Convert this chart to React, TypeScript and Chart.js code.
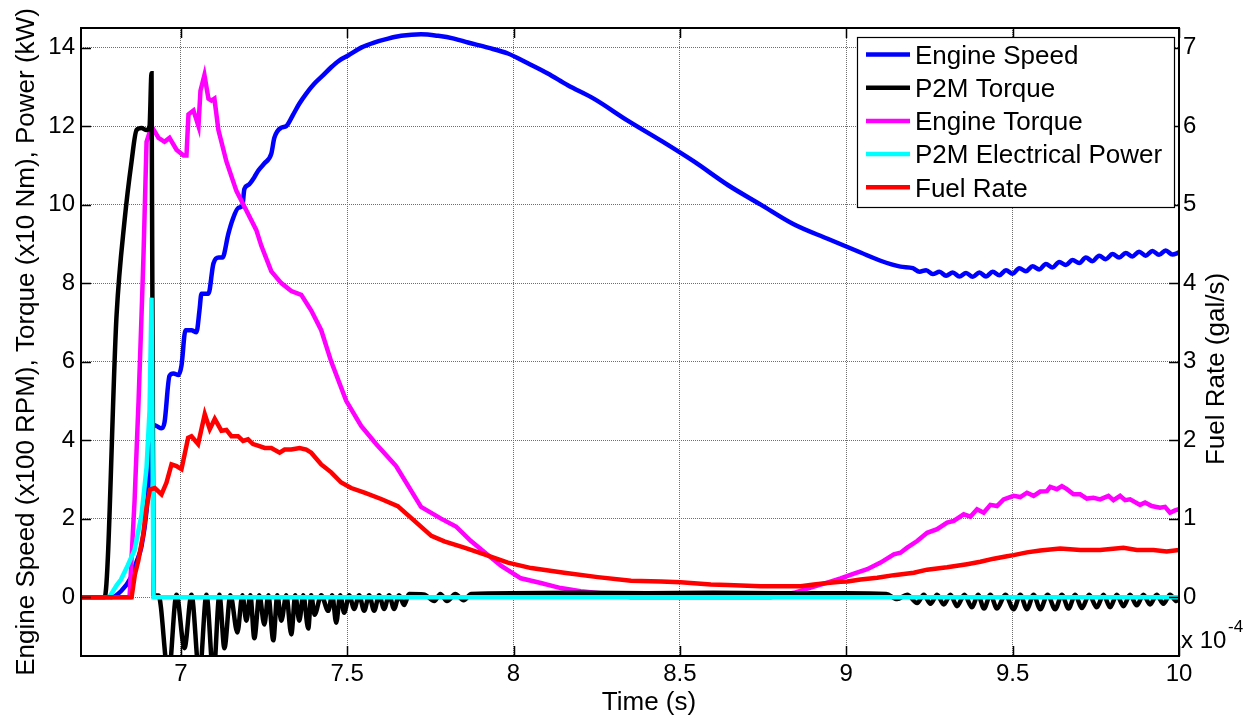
import React, { useEffect, useRef } from 'react';
import { Chart, registerables } from 'chart.js';

Chart.register(...registerables);

const FONT = '"Liberation Sans", Arial, Helvetica, sans-serif';

// Axis ticks
const timeTicks = [7, 7.5, 8, 8.5, 9, 9.5, 10];
const leftTicks = [0, 2, 4, 6, 8, 10, 12, 14];
const rightTicks = [0, 1, 2, 3, 4, 5, 6, 7];

const leftTitle = 'Engine Speed (x100 RPM), Torque (x10 Nm), Power (kW)';
const rightTitle = 'Fuel Rate (gal/s)';
const bottomTitle = 'Time (s)';

// Series as [time (s), value] pairs
// Engine speed, x100 RPM
const engineSpeed: [number, number][] = [
  [6.7, 0], [6.79, 0], [6.82, 0.15], [6.85, 0.5], [6.867, 0.9], [6.882, 1.3], [6.897, 2.2],
  [6.906, 3.3], [6.912, 4.4], [6.927, 4.36], [6.942, 4.3], [6.951, 4.45], [6.966, 5.64],
  [6.978, 5.7], [6.993, 5.66], [7.002, 5.9], [7.014, 6.8], [7.032, 6.8], [7.047, 6.75],
  [7.056, 7.3], [7.062, 7.73], [7.083, 7.73], [7.098, 8.5], [7.114, 8.65], [7.125, 8.65],
  [7.143, 9.26], [7.155, 9.6], [7.173, 9.92], [7.185, 9.97], [7.191, 10.4], [7.203, 10.5],
  [7.221, 10.7], [7.233, 10.87], [7.251, 11.05], [7.272, 11.3], [7.281, 11.7], [7.302, 11.96],
  [7.317, 12.0], [7.338, 12.3], [7.356, 12.57], [7.377, 12.83], [7.401, 13.08], [7.428, 13.3],
  [7.452, 13.5], [7.476, 13.67], [7.503, 13.8], [7.542, 14.0], [7.581, 14.13], [7.623, 14.23],
  [7.662, 14.3], [7.722, 14.34], [7.773, 14.3], [7.821, 14.23], [7.863, 14.13], [7.923, 14.0],
  [7.983, 13.85], [8.043, 13.6], [8.103, 13.34], [8.163, 13.04], [8.241, 12.7], [8.343, 12.14],
  [8.443, 11.63], [8.542, 11.1], [8.644, 10.5], [8.743, 10.0], [8.842, 9.5], [8.944, 9.13],
  [9.043, 8.78], [9.103, 8.57], [9.163, 8.42], [9.2, 8.38], [9.22, 8.29], [9.24, 8.33],
  [9.26, 8.23], [9.28, 8.29], [9.3, 8.19], [9.32, 8.27], [9.34, 8.17], [9.36, 8.26],
  [9.38, 8.16], [9.4, 8.27], [9.42, 8.17], [9.44, 8.29], [9.46, 8.2], [9.48, 8.33],
  [9.5, 8.24], [9.52, 8.38], [9.54, 8.3], [9.56, 8.43], [9.58, 8.35], [9.6, 8.49],
  [9.62, 8.4], [9.64, 8.54], [9.66, 8.46], [9.68, 8.59], [9.7, 8.51], [9.72, 8.65],
  [9.74, 8.56], [9.76, 8.7], [9.78, 8.61], [9.8, 8.74], [9.82, 8.65], [9.84, 8.77],
  [9.86, 8.68], [9.88, 8.8], [9.9, 8.7], [9.92, 8.82], [9.94, 8.72], [9.96, 8.83],
  [9.98, 8.73], [10, 8.78],
];

// P2M torque, x10 Nm
const p2mTorque: [number, number][] = [
  [6.7, 0], [6.771, 0], [6.807, 7.2], [6.831, 9.6], [6.852, 11.1], [6.867, 11.9], [6.882, 11.95],
  [6.897, 11.9], [6.906, 12.0], [6.912, 13.35], [6.918, 0.06], [6.933, 0.04], [6.963, -2.0],
  [6.987, 0.06], [7.011, -1.3], [7.032, 0.06], [7.056, -2.0], [7.077, 0.06], [7.098, -2.0],
  [7.116, 0.06], [7.131, -1.3], [7.149, 0.05], [7.17, -0.9], [7.185, 0.05], [7.197, -0.6],
  [7.209, 0.05], [7.221, -1.05], [7.236, 0.05], [7.251, -0.7], [7.263, 0.05], [7.278, -1.1],
  [7.29, 0.05], [7.302, -0.6], [7.317, 0.05], [7.332, -0.95], [7.344, 0.05], [7.356, -0.6],
  [7.368, 0.05], [7.383, -0.8], [7.392, 0.05], [7.402, -0.45], [7.422, 0.05], [7.443, -0.35],
  [7.455, 0.05], [7.467, -0.65], [7.479, 0.05], [7.491, -0.4], [7.506, 0.05], [7.521, -0.3],
  [7.536, 0.05], [7.551, -0.35], [7.566, 0.05], [7.581, -0.35], [7.596, 0.05], [7.611, -0.3],
  [7.626, 0.05], [7.641, -0.3], [7.656, 0.05], [7.671, -0.2], [7.686, 0.08], [7.73, 0.07],
  [7.762, -0.1], [7.78, 0.08], [7.8, -0.1], [7.825, 0.08], [7.85, -0.08], [7.873, 0.08],
  [8.0, 0.1], [8.2, 0.11], [8.4, 0.1], [8.6, 0.11], [8.8, 0.1], [9.0, 0.1], [9.12, 0.08],
  [9.153, -0.05], [9.183, 0.06], [9.213, -0.15], [9.233, 0.06], [9.253, -0.17], [9.273, 0.06],
  [9.293, -0.19], [9.313, 0.06], [9.333, -0.23], [9.355, 0.06], [9.378, -0.26], [9.396, 0.06],
  [9.414, -0.29], [9.433, 0.06], [9.453, -0.29], [9.478, 0.06], [9.503, -0.31], [9.523, 0.06],
  [9.543, -0.31], [9.563, 0.06], [9.583, -0.31], [9.605, 0.06], [9.628, -0.31], [9.648, 0.06],
  [9.668, -0.29], [9.688, 0.06], [9.708, -0.28], [9.73, 0.06], [9.753, -0.26], [9.773, 0.06],
  [9.793, -0.26], [9.813, 0.06], [9.833, -0.23], [9.853, 0.06], [9.873, -0.21], [9.893, 0.06],
  [9.913, -0.19], [9.933, 0.06], [9.953, -0.17], [9.973, 0.06], [9.992, -0.1], [10, 0],
];

// Engine torque, x10 Nm
const engineTorque: [number, number][] = [
  [6.7, 0], [6.846, 0], [6.855, 1.5], [6.861, 2.45], [6.873, 5.0], [6.882, 7.2], [6.888, 8.75],
  [6.897, 11.6], [6.912, 12.0], [6.933, 11.7], [6.951, 11.6], [6.966, 11.7], [6.987, 11.4],
  [7.008, 11.25], [7.017, 11.25], [7.023, 12.3], [7.038, 12.4], [7.053, 12.0], [7.059, 12.9],
  [7.071, 13.3], [7.083, 12.7], [7.092, 12.65], [7.101, 12.7], [7.113, 11.9], [7.137, 11.1],
  [7.167, 10.35], [7.197, 9.85], [7.227, 9.35], [7.242, 8.95], [7.272, 8.3], [7.302, 8.0],
  [7.332, 7.8], [7.362, 7.7], [7.392, 7.3], [7.422, 6.8], [7.452, 6.0], [7.497, 5.0],
  [7.542, 4.36], [7.587, 3.9], [7.647, 3.34], [7.722, 2.3], [7.782, 2.0], [7.827, 1.8],
  [7.872, 1.43], [7.902, 1.22], [7.962, 0.8], [8.022, 0.48], [8.082, 0.36], [8.142, 0.23],
  [8.202, 0.15], [8.262, 0.1], [8.322, 0.03], [8.352, 0], [8.773, 0], [8.843, 0.11],
  [8.893, 0.24], [8.943, 0.37], [8.983, 0.48], [9.023, 0.6], [9.063, 0.71], [9.103, 0.88],
  [9.143, 1.09], [9.163, 1.13], [9.183, 1.26], [9.213, 1.43], [9.243, 1.64], [9.273, 1.73],
  [9.303, 1.9], [9.323, 1.94], [9.353, 2.11], [9.373, 2.05], [9.393, 2.24], [9.413, 2.15],
  [9.433, 2.35], [9.453, 2.32], [9.473, 2.49], [9.503, 2.58], [9.523, 2.55], [9.543, 2.66],
  [9.563, 2.58], [9.583, 2.69], [9.603, 2.7], [9.613, 2.81], [9.633, 2.75], [9.648, 2.83],
  [9.663, 2.75], [9.683, 2.62], [9.703, 2.62], [9.723, 2.51], [9.743, 2.53], [9.763, 2.49],
  [9.788, 2.58], [9.803, 2.47], [9.823, 2.58], [9.838, 2.47], [9.853, 2.49], [9.883, 2.35],
  [9.898, 2.41], [9.918, 2.32], [9.943, 2.28], [9.958, 2.3], [9.973, 2.15], [9.988, 2.21],
  [10, 2.24],
];

// P2M electrical power, kW
const p2mPower: [number, number][] = [
  [6.7, 0], [6.785, 0], [6.807, 0.3], [6.82, 0.45], [6.84, 0.8], [6.861, 1.2], [6.882, 2.1],
  [6.897, 3.3], [6.906, 4.75], [6.912, 7.63], [6.918, 0], [10, 0],
];

// Fuel rate, x1e-4 gal/s (right axis)
const fuelRate: [number, number][] = [
  [6.7, 0], [6.852, 0], [6.862, 0.29], [6.872, 0.46], [6.887, 0.8], [6.897, 1.14], [6.907, 1.37],
  [6.922, 1.39], [6.942, 1.31], [6.957, 1.46], [6.972, 1.69], [6.987, 1.67], [7.002, 1.63],
  [7.022, 2.03], [7.032, 2.05], [7.052, 1.95], [7.072, 2.33], [7.087, 2.14], [7.102, 2.27],
  [7.122, 2.12], [7.137, 2.13], [7.152, 2.05], [7.172, 2.05], [7.187, 1.99], [7.202, 2.01],
  [7.217, 1.95], [7.232, 1.93], [7.252, 1.9], [7.272, 1.9], [7.297, 1.84], [7.312, 1.88],
  [7.332, 1.88], [7.357, 1.9], [7.377, 1.88], [7.392, 1.84], [7.422, 1.69], [7.452, 1.59],
  [7.482, 1.46], [7.512, 1.39], [7.552, 1.33], [7.602, 1.25], [7.652, 1.16], [7.692, 1.01],
  [7.753, 0.78], [7.792, 0.71], [7.852, 0.63], [7.912, 0.545], [7.983, 0.44], [8.053, 0.37],
  [8.152, 0.31], [8.253, 0.255], [8.353, 0.21], [8.443, 0.2], [8.502, 0.19], [8.593, 0.16],
  [8.643, 0.153], [8.743, 0.14], [8.863, 0.14], [8.903, 0.16], [8.943, 0.18], [8.983, 0.195],
  [9.003, 0.2], [9.043, 0.225], [9.093, 0.246], [9.143, 0.28], [9.203, 0.31], [9.243, 0.35],
  [9.303, 0.38], [9.363, 0.42], [9.403, 0.45], [9.443, 0.49], [9.483, 0.52], [9.503, 0.535],
  [9.543, 0.57], [9.583, 0.595], [9.643, 0.62], [9.703, 0.6], [9.763, 0.6], [9.833, 0.63],
  [9.873, 0.6], [9.923, 0.6], [9.963, 0.58], [10, 0.6],
];

const seriesNames = ['Engine Speed', 'P2M Torque', 'Engine Torque', 'P2M Electrical Power', 'Fuel Rate'];
const seriesColors = ['#0000ff', '#000000', '#ff00ff', '#00ffff', '#ff0000'];

const toPoints = (s: [number, number][]) => s.map(([x, y]) => ({ x, y }));

// MATLAB-style frame, inward ticks, legend and axis titles
const figureDecor = {
  id: 'figureDecor',
  afterDraw(chart: any) {
    const { ctx, chartArea: a, scales } = chart;
    const xs = scales.x;
    const yl = scales.y;
    const yr = scales.y2;
    ctx.save();

    // inward tick marks
    ctx.strokeStyle = '#000';
    ctx.lineWidth = 1.5;
    ctx.beginPath();
    for (const v of timeTicks) {
      const px = Math.round(xs.getPixelForValue(v)) + 0.5;
      ctx.moveTo(px, a.bottom);
      ctx.lineTo(px, a.bottom - 10);
      ctx.moveTo(px, a.top);
      ctx.lineTo(px, a.top + 10);
    }
    for (const v of leftTicks) {
      const py = Math.round(yl.getPixelForValue(v)) + 0.5;
      ctx.moveTo(a.left, py);
      ctx.lineTo(a.left + 10, py);
    }
    for (const v of rightTicks) {
      const py = Math.round(yr.getPixelForValue(v)) + 0.5;
      ctx.moveTo(a.right, py);
      ctx.lineTo(a.right - 10, py);
    }
    ctx.stroke();

    // axes box
    ctx.lineWidth = 2;
    ctx.strokeRect(a.left, a.top, a.right - a.left, a.bottom - a.top);

    // legend
    const lx = 857, ly = 37, lw = 317, lh = 170;
    ctx.fillStyle = '#fff';
    ctx.fillRect(lx, ly, lw, lh);
    ctx.lineWidth = 1.2;
    ctx.strokeStyle = '#000';
    ctx.strokeRect(lx + 0.5, ly + 0.5, lw, lh);
    ctx.font = `26px ${FONT}`;
    ctx.textAlign = 'left';
    ctx.textBaseline = 'alphabetic';
    seriesNames.forEach((name, i) => {
      const cy = 54.5 + i * 33.2;
      ctx.strokeStyle = seriesColors[i];
      ctx.lineWidth = 4.5;
      ctx.beginPath();
      ctx.moveTo(866, cy);
      ctx.lineTo(910, cy);
      ctx.stroke();
      ctx.fillStyle = '#000';
      ctx.fillText(name, 915, cy + 9.3);
    });

    // axis titles
    ctx.fillStyle = '#000';
    ctx.font = `26px ${FONT}`;
    ctx.textAlign = 'center';
    ctx.textBaseline = 'middle';
    const cyMid = (a.top + a.bottom) / 2;
    ctx.save();
    ctx.translate(27, cyMid);
    ctx.rotate(-Math.PI / 2);
    ctx.fillText(leftTitle, 0, 0);
    ctx.restore();
    ctx.save();
    ctx.translate(1217, 369);
    ctx.rotate(-Math.PI / 2);
    ctx.fillText(rightTitle, 0, 0);
    ctx.restore();
    ctx.fillText(bottomTitle, 649, 703);

    // exponent of the right axis
    ctx.textAlign = 'left';
    ctx.textBaseline = 'alphabetic';
    ctx.font = `24px ${FONT}`;
    ctx.fillText('x 10', 1181, 648);
    ctx.font = `17px ${FONT}`;
    ctx.fillText('-4', 1228, 632);

    ctx.restore();
  },
};

export default function App() {
  const canvasRef = useRef<HTMLCanvasElement | null>(null);

  useEffect(() => {
    const canvas = canvasRef.current;
    if (!canvas) return;
    const line = (i: number, data: [number, number][], axis: string, order: number, smooth: boolean) => ({
      label: seriesNames[i],
      data: toPoints(data),
      yAxisID: axis,
      borderColor: seriesColors[i],
      backgroundColor: seriesColors[i],
      borderWidth: 4.5,
      pointRadius: 0,
      tension: 0,
      cubicInterpolationMode: smooth ? 'monotone' : 'default',
      fill: false,
      clip: 0,
      order,
    });
    const tickFont = { family: FONT, size: 24 };
    const gridColor = '#6e6e6e';
    const chart = new Chart(canvas, {
      type: 'line',
      data: {
        datasets: [
          line(0, engineSpeed, 'y', 4, true),
          line(1, p2mTorque, 'y', 2, true),
          line(2, engineTorque, 'y', 3, false),
          line(3, p2mPower, 'y', 1, false),
          line(4, fuelRate, 'y2', 0, false),
        ],
      },
      options: {
        animation: false,
        responsive: false,
        maintainAspectRatio: false,
        devicePixelRatio: 1,
        layout: { padding: { top: 28, left: 0, right: 0, bottom: 0 } },
        plugins: { legend: { display: false }, tooltip: { enabled: false } },
        scales: {
          x: {
            type: 'linear',
            min: 6.7,
            max: 10,
            afterBuildTicks: (s: any) => {
              s.ticks = timeTicks.map((value) => ({ value }));
            },
            afterFit: (s: any) => {
              s.height = 61;
            },
            grid: { color: gridColor, lineWidth: 1, drawTicks: false },
            border: { display: false, dash: [1, 1] },
            ticks: { font: tickFont, color: '#000', padding: 4, maxRotation: 0, callback: (v: any) => String(v) },
          },
          y: {
            type: 'linear',
            position: 'left',
            min: -1.5,
            max: 14.5,
            afterBuildTicks: (s: any) => {
              s.ticks = leftTicks.map((value) => ({ value }));
            },
            afterFit: (s: any) => {
              s.width = 81;
            },
            grid: { color: gridColor, lineWidth: 1, drawTicks: false },
            border: { display: false, dash: [1, 1] },
            ticks: { font: tickFont, color: '#000', padding: 6, callback: (v: any) => String(v) },
          },
          y2: {
            type: 'linear',
            position: 'right',
            min: -0.75,
            max: 7.25,
            afterBuildTicks: (s: any) => {
              s.ticks = rightTicks.map((value) => ({ value }));
            },
            afterFit: (s: any) => {
              s.width = 71;
            },
            grid: { display: false, drawTicks: false },
            border: { display: false },
            ticks: { font: tickFont, color: '#000', padding: 4, callback: (v: any) => String(v) },
          },
        },
      },
      plugins: [figureDecor],
    });
    return () => chart.destroy();
  }, []);

  return (
    <div style={{ position: 'fixed', left: 0, top: 0, width: 1250, height: 717, background: '#fff' }}>
      <canvas ref={canvasRef} width={1250} height={717} style={{ display: 'block', width: 1250, height: 717 }} />
    </div>
  );
}
